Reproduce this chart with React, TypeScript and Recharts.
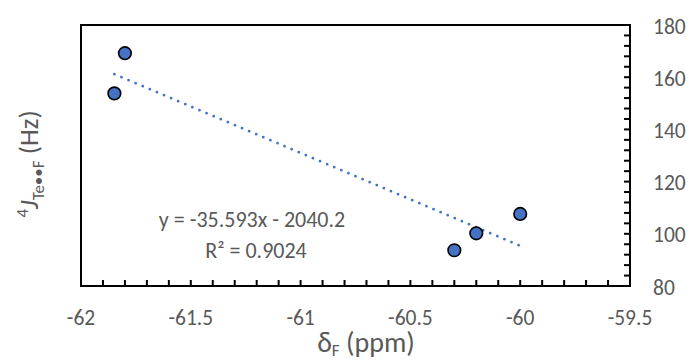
import React from 'react'
import { ComposedChart, ReferenceArea, Scatter, XAxis, YAxis } from 'recharts'

// chemical shift (ppm) and coupling constant (Hz)
const shiftF = [-61.848, -61.8, -60.3, -60.2, -60.0]
const couplingHz = [153.8, 169.2, 93.7, 100.2, 107.6]

// linear trendline as printed on the chart
const trendSlope = -35.593
const trendIntercept = -2040.2
const trendEnds = [-61.848, -60.0]

const xTicks = [
  -62, -61.9, -61.8, -61.7, -61.6, -61.5, -61.4, -61.3, -61.2, -61.1, -61,
  -60.9, -60.8, -60.7, -60.6, -60.5, -60.4, -60.3, -60.2, -60.1, -60,
  -59.9, -59.8, -59.7, -59.6, -59.5,
]
const yTicks = [
  80, 84, 88, 92, 96, 100, 104, 108, 112, 116, 120, 124, 128, 132, 136, 140,
  144, 148, 152, 156, 160, 164, 168, 172, 176, 180,
]

const FONT = "Carlito, Calibri, 'Open Sans', sans-serif"
const TEXT = '#595959'
const BLUE = '#4472C4'

const points = shiftF.map((x, i) => ({ x, y: couplingHz[i] }))
const trend = trendEnds.map((x) => ({ x, y: trendSlope * x + trendIntercept }))

const xLabel = (v: number) => (Math.abs(v * 2 - Math.round(v * 2)) < 1e-6 ? String(v) : '')
const yLabel = (v: number) => (v % 20 === 0 ? String(v) : '')

const Marker = (props: any) => (
  <circle cx={props.cx} cy={props.cy} r={6.3} fill={BLUE} stroke="#000" strokeWidth={1.6} />
)

export default function App() {
  return (
    <div style={{ position: 'absolute', left: 0, top: 0, fontFamily: FONT }}>
      <ComposedChart width={690} height={360} margin={{ top: 25, right: 0, bottom: 0, left: 81 }}>
        <XAxis
          dataKey="x"
          type="number"
          domain={[-62, -59.5]}
          ticks={xTicks}
          interval={0}
          tickFormatter={xLabel}
          height={74}
          axisLine={false}
          tickLine={{ stroke: '#000', strokeWidth: 2 }}
          tickSize={-6}
          tickMargin={30}
          tick={{ fill: TEXT, fontSize: 21.5, fontFamily: FONT }}
          allowDataOverflow
        />
        <YAxis
          dataKey="y"
          type="number"
          orientation="right"
          domain={[80, 180]}
          ticks={yTicks}
          interval={0}
          tickFormatter={yLabel}
          width={60}
          axisLine={false}
          tickLine={{ stroke: '#000', strokeWidth: 2 }}
          tickSize={-6}
          tickMargin={29}
          tick={{ fill: TEXT, fontSize: 21.5, fontFamily: FONT, dy: 1 }}
          allowDataOverflow
        />
        <ReferenceArea x1={-62} x2={-59.5} y1={80} y2={180} fill="none" stroke="#000" strokeWidth={2} />
        <Scatter
          data={trend}
          isAnimationActive={false}
          shape={() => <g />}
          line={{ stroke: BLUE, strokeWidth: 2.8, strokeDasharray: '0 7.7', strokeLinecap: 'round' }}
        />
        <Scatter data={points} isAnimationActive={false} shape={Marker} />
        <text x={252} y={227} textAnchor="middle" fill={TEXT} fontSize={22} fontFamily={FONT}>
          y = -35.593x - 2040.2
        </text>
        <text x={256} y={258} textAnchor="middle" fill={TEXT} fontSize={22} fontFamily={FONT}>
          R² = 0.9024
        </text>
        <text x={366} y={352} textAnchor="middle" fill={TEXT} fontSize={28} fontFamily={FONT}>
          δ<tspan fontSize={17} dy={4}>F</tspan>
          <tspan dy={-4}> (ppm)</tspan>
        </text>
        <text transform="translate(38,164) rotate(-90)" textAnchor="middle" fill={TEXT} fontSize={27} fontFamily={FONT}>
          <tspan fontSize={17} dy={-10}>4</tspan>
          <tspan fontStyle="italic" dy={10}>J</tspan>
          <tspan fontSize={17} dy={6}>Te••F</tspan>
          <tspan dy={-6}> (Hz)</tspan>
        </text>
      </ComposedChart>
    </div>
  )
}
